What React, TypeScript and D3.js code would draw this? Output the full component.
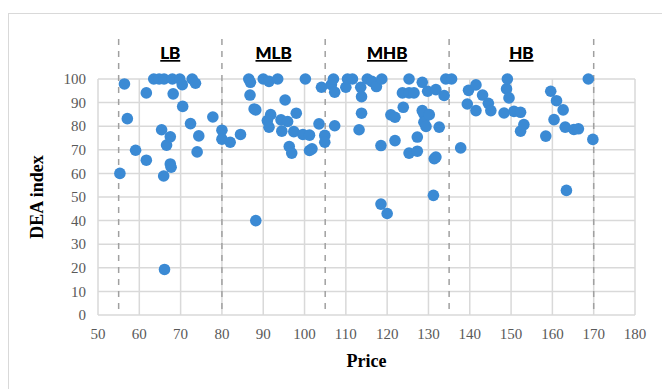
import * as d3 from "d3";

// [price, DEA index], grouped by price band
const lbPoints: [number, number][] = [
  [55.3, 60], [56.4, 97.9], [57.1, 83.2], [59.1, 69.8], [61.7, 94.1], [61.7, 65.6],
  [63.5, 100], [64.8, 100], [66, 100], [65.4, 78.5], [65.9, 58.9], [66.1, 19.3],
  [66.6, 72], [67.5, 75.5], [67.5, 64], [67.7, 62.6], [68, 100], [68.2, 93.7],
  [69.8, 100], [70.4, 97.6], [70.5, 88.4], [72.4, 81.1], [72.8, 100], [73.6, 98.2],
  [74, 69.1], [74.4, 75.9], [77.8, 83.9], [80, 78.3], [80, 74.5],
];
const mlbPoints: [number, number][] = [
  [82, 73.2], [84.5, 76.5], [86.5, 100], [86.9, 98.6], [86.8, 93.2], [87.8, 87.3],
  [88.2, 86.9], [88.2, 40], [90, 100], [91.4, 99], [91.8, 84.9], [91, 82.4],
  [91.4, 79.6], [93.5, 100], [94.3, 82.7], [94.5, 77.9], [95.3, 91.1], [95.9, 82],
  [96.3, 71.4], [96.9, 68.6], [97.4, 77.7], [98, 85.5], [99.6, 76.5], [100.2, 100],
  [101.2, 76.2], [101.2, 69.7], [101.8, 70.4], [103.5, 81], [104.1, 96.5],
  [104.9, 76.1], [104.9, 73.2],
];
const mhbPoints: [number, number][] = [
  [106.5, 97.6], [107, 100], [107.3, 94.4], [107.3, 80.2], [110, 96.5], [110.4, 100],
  [111.6, 100], [113.2, 78.5], [113.6, 96.5], [113.8, 92.5], [113.8, 85.5], [115.2, 100],
  [116.3, 99], [117.4, 96.8], [118.5, 47], [118.5, 71.8], [118.7, 100], [120, 43],
  [120.9, 84.8], [121.9, 83.8], [121.9, 73.9], [123.7, 94.1], [123.9, 88], [125.3, 100],
  [125.3, 94.1], [125.3, 68.6], [126.5, 94.1], [127.3, 75.4], [127.3, 69.4], [128.5, 98.6],
  [128.5, 86.6], [128.9, 85.2], [128.9, 81.7], [129.4, 79.9], [129.8, 94.8], [130.2, 84.9],
  [131.2, 50.7], [131.4, 66.2], [131.8, 66.9], [131.8, 95.5], [132.6, 79.6], [133.8, 93],
  [134.2, 100],
];
const hbPoints: [number, number][] = [
  [135.6, 100], [137.8, 70.8], [139.4, 89.4], [139.7, 95.2], [141.5, 97.5], [141.5, 86.6],
  [143.1, 93.2], [144.5, 89.7], [145.1, 86.6], [148.3, 85.6], [148.9, 95.8], [149.1, 100],
  [149.5, 92], [150.7, 86.3], [152.3, 85.9], [152.3, 77.9], [153.1, 80.7], [158.4, 75.8],
  [159.6, 94.8], [160.4, 82.8], [161, 90.8], [162.6, 86.9], [163.1, 79.6], [163.4, 52.8],
  [165.2, 78.6], [166.3, 78.9], [168.7, 100], [169.8, 74.4],
];

const bandLabels = ["LB", "MLB", "MHB", "HB"];
const bandBreaks = [55, 80, 105, 135, 170];
const xTicks = d3.range(50, 181, 10);
const yTicks = d3.range(0, 101, 10);

export default function App() {
  const width = 662;
  const height = 389;
  const x = d3.scaleLinear().domain([50, 180]).range([98, 635]);
  const y = d3.scaleLinear().domain([0, 100]).range([315, 79]);
  const points = [...lbPoints, ...mlbPoints, ...mhbPoints, ...hbPoints];
  const grid = "#d9d9d9";

  return (
    <svg
      width={width}
      height={height}
      style={{ position: "absolute", left: 0, top: 0, background: "#fff" }}
    >
      {/* chart area border */}
      <line x1={8} x2={width} y1={13.5} y2={13.5} stroke={grid} />
      <line x1={8.5} x2={8.5} y1={13} y2={height} stroke={grid} />

      {yTicks.map((t) => (
        <line key={"h" + t} x1={x(50)} x2={x(180)} y1={y(t)} y2={y(t)} stroke={grid} strokeWidth={1.5} />
      ))}
      {xTicks.map((t) => (
        <line key={"v" + t} x1={x(t)} x2={x(t)} y1={y(0)} y2={y(100)} stroke={grid} strokeWidth={1.5} />
      ))}

      {bandBreaks.map((b) => (
        <line
          key={"d" + b}
          x1={x(b)}
          x2={x(b)}
          y1={39}
          y2={y(0)}
          stroke="#a0a0a0"
          strokeWidth={1.5}
          strokeDasharray="6,6"
        />
      ))}

      {bandLabels.map((lab, i) => {
        const cx = (x(bandBreaks[i]) + x(bandBreaks[i + 1])) / 2;
        return (
          <g key={lab}>
            <text
              x={cx}
              y={59}
              textAnchor="middle"
              fontFamily="Lato, 'Open Sans', sans-serif"
              fontWeight="bold"
              fontSize={17}
              fill="#000"
            >
              {lab}
            </text>
            <text
              x={cx}
              y={59}
              textAnchor="middle"
              fontFamily="Lato, 'Open Sans', sans-serif"
              fontWeight="bold"
              fontSize={17}
              fill="#000"
              textDecoration="underline"
            >
              {lab}
            </text>
          </g>
        );
      })}

      {points.map(([px, py], i) => (
        <circle key={i} cx={x(px)} cy={y(py)} r={5.8} fill="#3b8ad4" />
      ))}

      {yTicks.map((t) => (
        <text
          key={"yl" + t}
          x={86}
          y={y(t)}
          dy="0.35em"
          textAnchor="end"
          fontFamily="'Liberation Serif', serif"
          fontSize={15}
          fill="#595959"
        >
          {t}
        </text>
      ))}
      {xTicks.map((t) => (
        <text
          key={"xl" + t}
          x={x(t)}
          y={339}
          textAnchor="middle"
          fontFamily="'Liberation Serif', serif"
          fontSize={15}
          fill="#595959"
        >
          {t}
        </text>
      ))}

      <text
        x={(x(50) + x(180)) / 2}
        y={367}
        textAnchor="middle"
        fontFamily="'Liberation Serif', serif"
        fontWeight="bold"
        fontSize={18}
        fill="#000"
      >
        Price
      </text>
      <text
        transform={`translate(43,${(y(0) + y(100)) / 2}) rotate(-90)`}
        textAnchor="middle"
        fontFamily="'Liberation Serif', serif"
        fontWeight="bold"
        fontSize={18}
        fill="#000"
      >
        DEA index
      </text>
    </svg>
  );
}
